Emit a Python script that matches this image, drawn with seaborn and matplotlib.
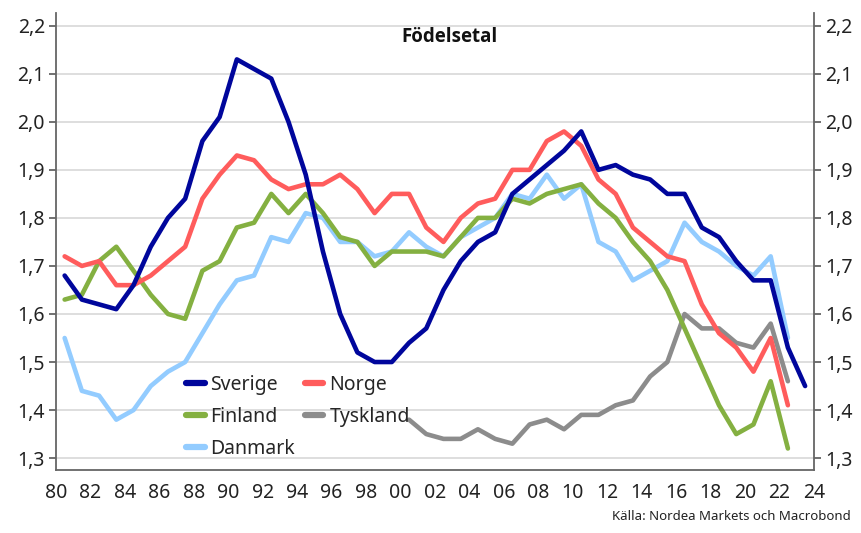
import numpy as np
import pandas as pd
import matplotlib
matplotlib.use("Agg")
import matplotlib.pyplot as plt
from matplotlib.lines import Line2D
import seaborn as sns

# Födelsetal (total fruktsamhet) per år
years = list(range(1980, 2024))

sverige = [1.68, 1.63, 1.62, 1.61, 1.66, 1.74, 1.80, 1.84, 1.96, 2.01,
           2.13, 2.11, 2.09, 2.00, 1.89, 1.73, 1.60, 1.52, 1.50, 1.50,
           1.54, 1.57, 1.65, 1.71, 1.75, 1.77, 1.85, 1.88, 1.91, 1.94,
           1.98, 1.90, 1.91, 1.89, 1.88, 1.85, 1.85, 1.78, 1.76, 1.71,
           1.67, 1.67, 1.53, 1.45]
norge = [1.72, 1.70, 1.71, 1.66, 1.66, 1.68, 1.71, 1.74, 1.84, 1.89,
         1.93, 1.92, 1.88, 1.86, 1.87, 1.87, 1.89, 1.86, 1.81, 1.85,
         1.85, 1.78, 1.75, 1.80, 1.83, 1.84, 1.90, 1.90, 1.96, 1.98,
         1.95, 1.88, 1.85, 1.78, 1.75, 1.72, 1.71, 1.62, 1.56, 1.53,
         1.48, 1.55, 1.41]
finland = [1.63, 1.64, 1.71, 1.74, 1.69, 1.64, 1.60, 1.59, 1.69, 1.71,
           1.78, 1.79, 1.85, 1.81, 1.85, 1.81, 1.76, 1.75, 1.70, 1.73,
           1.73, 1.73, 1.72, 1.76, 1.80, 1.80, 1.84, 1.83, 1.85, 1.86,
           1.87, 1.83, 1.80, 1.75, 1.71, 1.65, 1.57, 1.49, 1.41, 1.35,
           1.37, 1.46, 1.32]
danmark = [1.55, 1.44, 1.43, 1.38, 1.40, 1.45, 1.48, 1.50, 1.56, 1.62,
           1.67, 1.68, 1.76, 1.75, 1.81, 1.80, 1.75, 1.75, 1.72, 1.73,
           1.77, 1.74, 1.72, 1.76, 1.78, 1.80, 1.85, 1.84, 1.89, 1.84,
           1.87, 1.75, 1.73, 1.67, 1.69, 1.71, 1.79, 1.75, 1.73, 1.70,
           1.68, 1.72, 1.55]
tyskland_start = 2000
tyskland = [1.38, 1.35, 1.34, 1.34, 1.36, 1.34, 1.33, 1.37, 1.38, 1.36,
            1.39, 1.39, 1.41, 1.42, 1.47, 1.50, 1.60, 1.57, 1.57, 1.54,
            1.53, 1.58, 1.46]

serier = {
    "Sverige": (1980, sverige),
    "Norge": (1980, norge),
    "Finland": (1980, finland),
    "Danmark": (1980, danmark),
    "Tyskland": (tyskland_start, tyskland),
}
farger = {
    "Sverige": "#00069C",
    "Norge": "#FF5C5C",
    "Finland": "#84B041",
    "Danmark": "#93CCFF",
    "Tyskland": "#8C8C8C",
}

rows = []
for land, (start, vals) in serier.items():
    for i, v in enumerate(vals):
        # punkterna ligger mitt i respektive år
        rows.append({"x": start + i + 0.5, "värde": v, "land": land})
df = pd.DataFrame(rows)

sns.set_style("white")
plt.rcParams['font.family'] = ['Noto Sans', 'DejaVu Sans']

fig = plt.figure(figsize=(8.62, 5.33), dpi=100)
ax = fig.add_axes([0.065, 0.118, 0.879, 0.858])

rita_ordning = ["Tyskland", "Danmark", "Finland", "Norge", "Sverige"]
sns.lineplot(data=df, x="x", y="värde", hue="land", hue_order=rita_ordning,
             palette=farger, linewidth=3.3, ax=ax, legend=False)

ax.set_xlim(1980, 2024)
ax.set_ylim(1.275, 2.227)
yticks = np.round(np.arange(1.3, 2.21, 0.1), 1)
ax.set_yticks(yticks)
ax.set_yticklabels([f"{t:.1f}".replace(".", ",") for t in yticks])
xticks = list(range(1980, 2025, 2))
ax.set_xticks(xticks)
ax.set_xticklabels([f"{t % 100:02d}" for t in xticks])
ax.set_xlabel("")
ax.set_ylabel("")

for t in yticks:
    ax.axhline(t, color="#D4D4D4", lw=1.1, zorder=0)

for s in ["left", "right", "bottom"]:
    ax.spines[s].set_color("#666666")
    ax.spines[s].set_linewidth(1.3)
ax.spines["top"].set_visible(False)
ax.tick_params(axis="y", which="both", left=True, right=True, labelleft=True,
               labelright=True, direction="out", length=5, width=1.3,
               color="#666666", labelsize=14, labelcolor="#222222", pad=3)
ax.tick_params(axis="x", direction="out", length=5, width=1.3,
               color="#666666", labelsize=14, labelcolor="#222222", pad=4)

# legend: kolumnvis Sverige/Finland/Danmark, Norge/Tyskland
leg_ordning = ["Sverige", "Finland", "Danmark", "Norge", "Tyskland"]
handles = [Line2D([], [], color=farger[l], lw=4.5) for l in leg_ordning]
fig.legend(handles, leg_ordning, loc="upper left", bbox_to_anchor=(0.216, 0.296),
           ncol=2, frameon=False, fontsize=14, handlelength=0.95,
           handletextpad=0.3, columnspacing=0.5, labelspacing=0.6,
           borderaxespad=0, borderpad=0)

fig.text(0.522, 0.93, "Födelsetal", ha="center", va="center",
         fontsize=13.5, fontweight="bold", color="#111111",
         family=["Open Sans", "DejaVu Sans"])
fig.text(0.987, 0.018, "Källa: Nordea Markets och Macrobond", ha="right",
         va="bottom", fontsize=9.5, color="#222222")

fig.savefig("out.png", dpi=100)
